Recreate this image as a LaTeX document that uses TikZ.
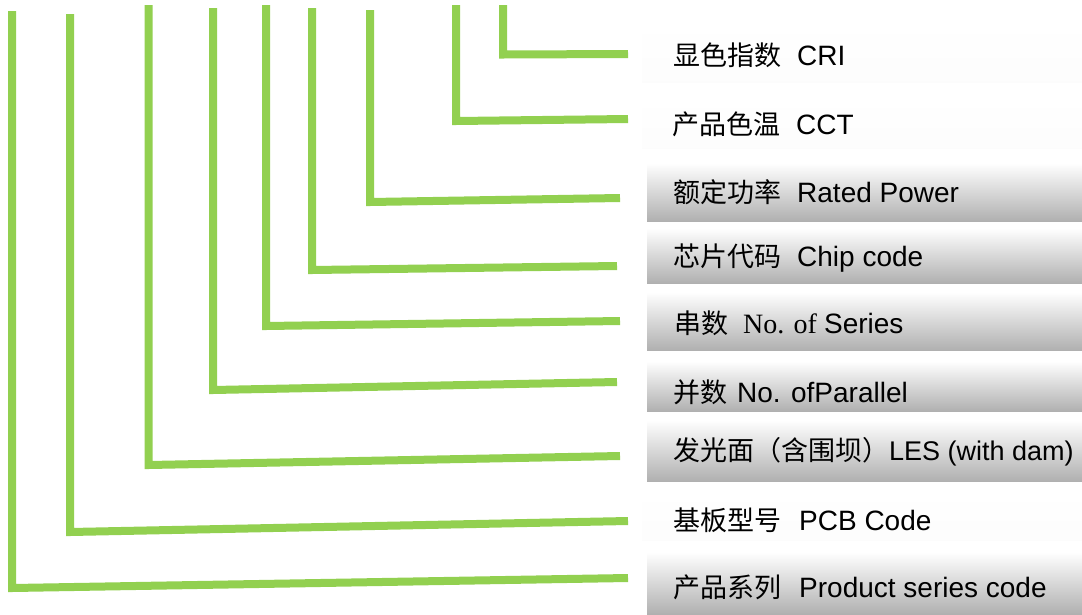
\documentclass[tikz,border=0pt]{standalone}
\usepackage{fontspec}
\setmainfont{Liberation Sans}
\newfontfamily\cjkfam{Noto Sans CJK SC}
\newfontfamily\tnr{Liberation Serif}
\newcommand{\zh}[1]{{\fontsize{27}{32}\selectfont\cjkfam #1}}
\definecolor{leadgreen}{RGB}{146,208,80}
\tikzset{
  lead/.style={draw=leadgreen, line width=8pt},
  band/.style={anchor=north west, inner sep=0pt, draw=none, top color=white, bottom color=gray!62, minimum width=435pt},
  paleband/.style={anchor=north west, inner sep=0pt, draw=none, top color=white, bottom color=gray!2, minimum width=440pt},
  lbl/.style={anchor=base west, inner sep=0pt, font=\fontsize{28}{32}\selectfont}
}
\begin{document}
\begin{tikzpicture}[x=1pt,y=-1pt]
\useasboundingbox (0,0) rectangle (1082,614);
% label bands
\node[paleband, minimum height=60pt] (bCRI) at (642,22) {};
\node[paleband, minimum height=51pt] (bCCT) at (642,97) {};
\node[band, minimum height=58pt] (bRated) at (647,163) {};
\node[band, minimum height=55pt] (bChip) at (647,228) {};
\node[band, minimum height=58pt] (bSeries) at (647,292) {};
\node[band, minimum height=50pt] (bPar) at (647,361) {};
\node[band, minimum height=61pt] (bLES) at (647,420) {};
\node[paleband, minimum height=48pt] (bPCB) at (642,492) {};
\node[band, minimum height=62pt] (bProd) at (647,552) {};
% labels
\node[lbl] (tCRI) at (673,65) {\zh{显色指数}\hspace{16pt}CRI};
\node[lbl] (tCCT) at (672,134) {\zh{产品色温}\hspace{16pt}CCT};
\node[lbl] (tRated) at (673,202) {\zh{额定功率}\hspace{16pt}Rated Power};
\node[lbl] (tChip) at (673,266) {\zh{芯片代码}\hspace{16pt}Chip code};
\node[lbl] (tSeries) at (674,333) {\zh{串数}\hspace{15pt}{\tnr No. of}\hspace{7pt}Series};
\node[lbl] (tPar) at (673,402) {\zh{并数}\hspace{10pt}No. ofParallel};
\node[lbl, font=\fontsize{27}{32}\selectfont] (tLES) at (673,460) {\zh{发光面（含围坝）}LES (with dam)};
\node[lbl] (tPCB) at (673,530) {\zh{基板型号}\hspace{18pt}PCB Code};
\node[lbl] (tProd) at (673,597) {\zh{产品系列}\hspace{18pt}Product series code};
% leader lines
\coordinate (t1) at (12,11);  \coordinate (c1) at (12,588);  \coordinate (e1) at (628,578);
\coordinate (t2) at (70,14);  \coordinate (c2) at (70,532);  \coordinate (e2) at (628,521);
\coordinate (t3) at (148.5,5); \coordinate (c3) at (148.5,465); \coordinate (e3) at (620,456);
\coordinate (t4) at (213,8);  \coordinate (c4) at (213,390); \coordinate (e4) at (617,382);
\coordinate (t5) at (266,5);  \coordinate (c5) at (266,326); \coordinate (e5) at (620,321);
\coordinate (t6) at (312,8);  \coordinate (c6) at (312,270); \coordinate (e6) at (617,266);
\coordinate (t7) at (370,10); \coordinate (c7) at (370,202); \coordinate (e7) at (620,198);
\coordinate (t8) at (456,5);  \coordinate (c8) at (456,121); \coordinate (e8) at (628,119);
\coordinate (t9) at (503,5);  \coordinate (c9) at (503,54.5); \coordinate (e9) at (628,54);
\foreach \i in {1,...,9} {\draw[lead] (t\i) -- (c\i) -- (e\i);}
\end{tikzpicture}
\end{document}
